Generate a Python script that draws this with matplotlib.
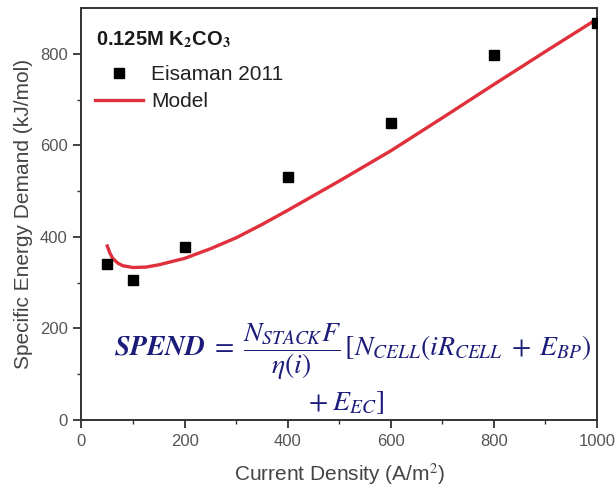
import matplotlib
matplotlib.use("Agg")
import matplotlib.pyplot as plt

# Experimental data (Eisaman 2011)
exp_x = [50, 100, 200, 400, 600, 800, 1000]
exp_y = [341, 305, 378, 530, 648, 797, 868]

# Model curve
model_x = [50, 55, 60, 70, 80, 100, 125, 150, 200, 250, 300, 350, 400, 500, 600, 700, 800, 900, 1000]
model_y = [380, 365, 354, 343, 337, 333, 334, 339, 353, 374, 398, 427, 458, 522, 588, 660, 733, 805, 876]

xticks = [0, 200, 400, 600, 800, 1000]
yticks = [0, 200, 400, 600, 800]

plt.rcParams['font.family'] = ['Liberation Sans', 'DejaVu Sans']
plt.rcParams['mathtext.fontset'] = 'stix'

fig = plt.figure(figsize=(6.15, 4.87), dpi=100)
ax = fig.add_axes([0.1325, 0.1376, 0.8383, 0.846])

ax.plot(exp_x, exp_y, linestyle='none', marker='s', markersize=7, color='black',
        label='Eisaman 2011', zorder=3)
ax.plot(model_x, model_y, color='#e0303c', linewidth=2.4, label='Model', zorder=2)

ax.set_xlim(0, 1000)
ax.set_ylim(0, 900)
ax.set_xticks(xticks)
ax.set_yticks(yticks)
ax.set_xticks(range(100, 1000, 200), minor=True)
ax.set_yticks(range(100, 900, 200), minor=True)
ax.tick_params(axis='both', which='major', direction='out', length=6, width=1.3,
               labelsize=12, labelcolor='#555555', colors='#333333', pad=4)
ax.tick_params(axis='both', which='minor', direction='out', length=3, width=1.0, colors='#333333')
for s in ax.spines.values():
    s.set_linewidth(1.4)
    s.set_color('#333333')

ax.set_xlabel('Current Density (A/m$^2$)', fontsize=15, color='#444444', labelpad=9)
ax.set_ylabel('Specific Energy Demand (kJ/mol)', fontsize=15, color='#444444', labelpad=5)

ax.text(0.028, 0.922, '0.125M K$_\\mathbf{2}$CO$_\\mathbf{3}$', transform=ax.transAxes,
        fontsize=14.5, fontweight='bold', color='#1a1a1a', va='center', ha='left')

leg = ax.legend(loc='upper left', bbox_to_anchor=(0.026, 0.862), frameon=False,
                fontsize=15, handlelength=2.3, handletextpad=0.4, borderaxespad=0,
                borderpad=0, labelspacing=0.4, labelcolor='#222222')

navy = '#1c1c7a'
ax.text(0.063, 0.165,
        r'$\mathbfit{SPEND}\;=\;\dfrac{N_{STACK}F}{\eta(i)}\,[N_{CELL}(iR_{CELL}\;+\;E_{BP})$',
        transform=ax.transAxes, fontsize=20, color=navy, va='center', ha='left')
ax.text(0.513, 0.041, r'$+\;E_{EC}]$', transform=ax.transAxes, fontsize=20,
        color=navy, va='center', ha='center')

fig.savefig('out.png', dpi=100)
